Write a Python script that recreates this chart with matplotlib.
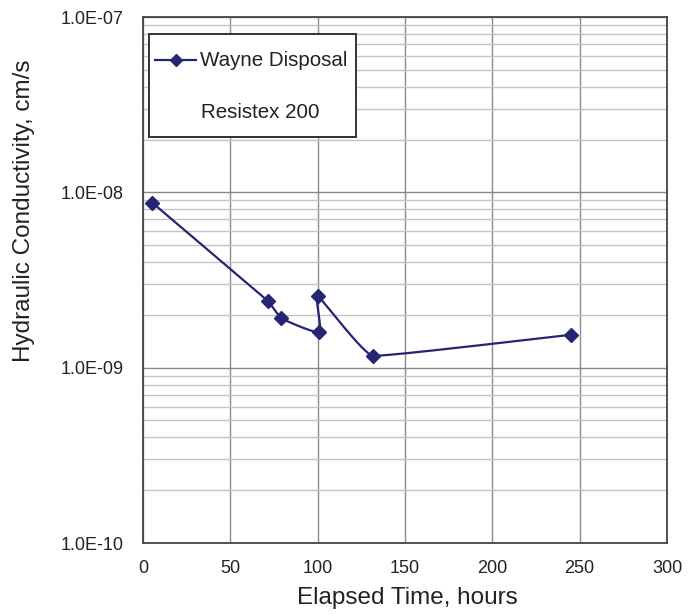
import numpy as np
import matplotlib
matplotlib.use("Agg")
import matplotlib.pyplot as plt
from matplotlib.ticker import FixedLocator, FuncFormatter, LogLocator, NullFormatter
from matplotlib.lines import Line2D
from matplotlib.patches import Rectangle

plt.rcParams['font.family'] = ['Liberation Sans', 'DejaVu Sans']

hours = [5.3, 71.6, 79.2, 100.9, 100.0, 131.5, 244.9]
conductivity = [8.73e-9, 2.40e-9, 1.91e-9, 1.60e-9, 2.56e-9, 1.17e-9, 1.54e-9]
series_name = "Wayne Disposal"
note = "Resistex 200"
x_ticks = [0, 50, 100, 150, 200, 250, 300]
y_ticks = [1e-10, 1e-9, 1e-8, 1e-7]

W, H = 689, 614
fig = plt.figure(figsize=(W/100, H/100), dpi=100)
ax = fig.add_axes([143/W, 1-543/H, (667-143)/W, (543-17)/H])
ax.set_yscale('log')
ax.set_xlim(0, 300)
ax.set_ylim(1e-10, 1e-7)

color = '#252573'
aspect = (543-17)/(667-143)

# mildly smoothed line; handle lengths limited by neighbouring segment lengths
def smooth(xs, ys, k=0.12, n=30):
    px = np.array(xs, float) / 300.0
    py = (np.log10(ys) + 10) / 3.0 * aspect
    P = np.column_stack([px, py])
    seglen = np.linalg.norm(np.diff(P, axis=0), axis=1)
    out = []
    for i in range(len(P)-1):
        p0 = P[i-1] if i > 0 else P[i]
        p1 = P[i]; p2 = P[i+1]
        p3 = P[i+2] if i+2 < len(P) else P[i+1]
        L1 = min(seglen[i], seglen[i-1]) if i > 0 else seglen[i]
        L2 = min(seglen[i], seglen[i+1]) if i+1 < len(seglen) else seglen[i]
        d1 = p2 - p0; d1 = d1 / np.linalg.norm(d1)
        d2 = p3 - p1; d2 = d2 / np.linalg.norm(d2)
        c1 = p1 + d1 * L1 * k
        c2 = p2 - d2 * L2 * k
        t = np.linspace(0, 1, n)[:, None]
        seg = (1-t)**3*p1 + 3*(1-t)**2*t*c1 + 3*(1-t)*t**2*c2 + t**3*p2
        out.append(seg if i == 0 else seg[1:])
    S = np.vstack(out)
    sx = S[:, 0] * 300.0
    sy = 10 ** (S[:, 1] / aspect * 3.0 - 10)
    return sx, sy

sx, sy = smooth(hours, conductivity)
ax.plot(sx, sy, color=color, lw=1.6, zorder=3)
ax.plot(hours, conductivity, linestyle='none', marker='D', ms=7, color=color, zorder=4)

ax.xaxis.set_major_locator(FixedLocator(x_ticks))
ax.yaxis.set_major_locator(FixedLocator(y_ticks))
ax.yaxis.set_minor_locator(LogLocator(base=10, subs=np.arange(2, 10)))
ax.yaxis.set_minor_formatter(NullFormatter())
ax.yaxis.set_major_formatter(FuncFormatter(lambda v, p: "%.1E" % v))

ax.grid(True, which='major', axis='both', color='#8a8a8a', lw=1.0, zorder=1)
ax.grid(True, which='minor', axis='y', color='#c4c4c4', lw=1.0, zorder=0)
ax.tick_params(which='both', length=0, labelsize=13, colors='#222222')
ax.tick_params(axis='y', pad=14)
ax.tick_params(axis='x', pad=12)
for s in ax.spines.values():
    s.set_color('#444444'); s.set_linewidth(1.3)

fig.text(407/W, 1-598/H, "Elapsed Time, hours", fontsize=17.5, color='#222222', ha='center', va='center')
fig.text(24/W, 1-211/H, "Hydraulic Conductivity, cm/s", fontsize=17.5, color='#222222',
         ha='center', va='center', rotation=90)

# legend box
bx0, by0, bx1, by1 = 149, 34, 356, 137
ax.add_patch(Rectangle((bx0/W, 1-by1/H), (bx1-bx0)/W, (by1-by0)/H, transform=fig.transFigure,
                       facecolor='white', edgecolor='#333333', lw=1.4, zorder=10))
fig.add_artist(Line2D([155/W, 196/W], [1-60/H, 1-60/H], color=color, lw=1.6, zorder=11))
fig.add_artist(Line2D([175.5/W], [1-60/H], marker='D', ms=6.5, color=color, zorder=12))
fig.text(200/W, 1-60/H, series_name, fontsize=14.8, va='center', ha='left', color='#222222', zorder=12)
fig.text(260/W, 1-112/H, note, fontsize=14.8, va='center', ha='center', color='#222222', zorder=12)

fig.savefig("out.png", dpi=100)
